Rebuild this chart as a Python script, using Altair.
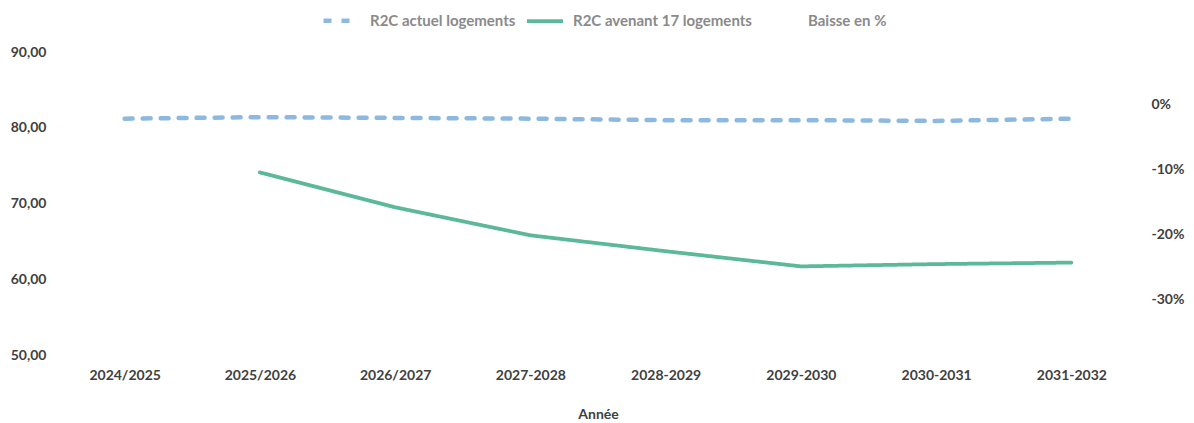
import altair as alt
import pandas as pd

years = ["2024/2025", "2025/2026", "2026/2027", "2027-2028",
         "2028-2029", "2029-2030", "2030-2031", "2031-2032"]
actuel = [81.2, 81.4, 81.3, 81.2, 81.0, 81.0, 80.9, 81.2]
avenant = [None, 74.1, 69.5, 65.8, 63.7, 61.7, 62.0, 62.2]
baisse = [None] * 8

series_names = ["R2C actuel logements", "R2C avenant 17 logements", "Baisse en %"]
series_colors = ["#8db8e0", "#5cb89a", "#ffffff"]
series_dash = [[8, 10], [1, 0], [1, 0]]
series_widths = [4.5, 3, 3]

rows = []
for y, a, b in zip(years, actuel, avenant):
    rows.append({"year": y, "series": series_names[0], "value": a})
    rows.append({"year": y, "series": series_names[1], "value": b})
df = pd.DataFrame(rows)
df_pct = pd.DataFrame({"year": years, "pct": baisse})

FONT = "Lato"
TXT = "#404040"

x_enc = alt.X("year:N", sort=years, title="Année",
              scale=alt.Scale(type="point", padding=0.5),
              axis=alt.Axis(labelAngle=0, ticks=False, domain=False, grid=False,
                            labelPadding=13, titlePadding=25, labelFontSize=14,
                            labelFontWeight="bold", labelColor=TXT,
                            titleFontSize=14, titleFontWeight="bold", titleColor=TXT))

lines = alt.Chart(df).mark_line(strokeCap="round").encode(
    x=x_enc,
    y=alt.Y("value:Q", title=None,
            scale=alt.Scale(domain=[50, 90], nice=False, zero=False),
            axis=alt.Axis(values=[50, 60, 70, 80, 90], ticks=False, domain=False,
                          grid=False, labelPadding=11, labelFontSize=14,
                          labelFontWeight="bold", labelColor=TXT,
                          labelExpr="replace(format(datum.value, '.2f'), '.', ',')")),
    color=alt.Color("series:N",
                    scale=alt.Scale(domain=series_names, range=series_colors),
                    legend=alt.Legend(title=None, orient="none", direction="horizontal",
                                      legendX=264, legendY=-52,
                                      symbolType="stroke", symbolSize=1300,
                                      symbolStrokeWidth=5, columnPadding=3,
                                      labelFontSize=15, labelFontWeight="bold",
                                      labelColor="#8a8a8a", labelFont=FONT,
                                      labelOffset=8, labelLimit=0)),
    strokeDash=alt.StrokeDash("series:N",
                              scale=alt.Scale(domain=series_names, range=series_dash),
                              legend=None),
    strokeWidth=alt.StrokeWidth("series:N",
                                scale=alt.Scale(domain=series_names, range=series_widths),
                                legend=None),
    detail="series:N",
)

pct = alt.Chart(df_pct).mark_point(opacity=0).encode(
    x=alt.X("year:N", sort=years, scale=alt.Scale(type="point", padding=0.5)),
    y=alt.Y("pct:Q", title=None,
            scale=alt.Scale(domain=[-0.385, 0.08], nice=False, zero=False),
            axis=alt.Axis(orient="right", values=[0, -0.1, -0.2, -0.3], ticks=False,
                          domain=False, grid=False, labelPadding=12, labelFontSize=14,
                          labelFontWeight="bold", labelColor=TXT,
                          labelExpr="toString(round(datum.value * 100)) + '%'")),
)

chart = alt.layer(lines, pct).resolve_scale(y="independent").properties(
    width=1082, height=303,
    autosize=alt.AutoSizeParams(type="none"),
    padding={"left": 49, "top": 44, "right": 47, "bottom": 68},
).configure(font=FONT, view=alt.ViewConfig(stroke=None))

chart.save("out.html", embed_options={"renderer": "svg", "actions": False})
